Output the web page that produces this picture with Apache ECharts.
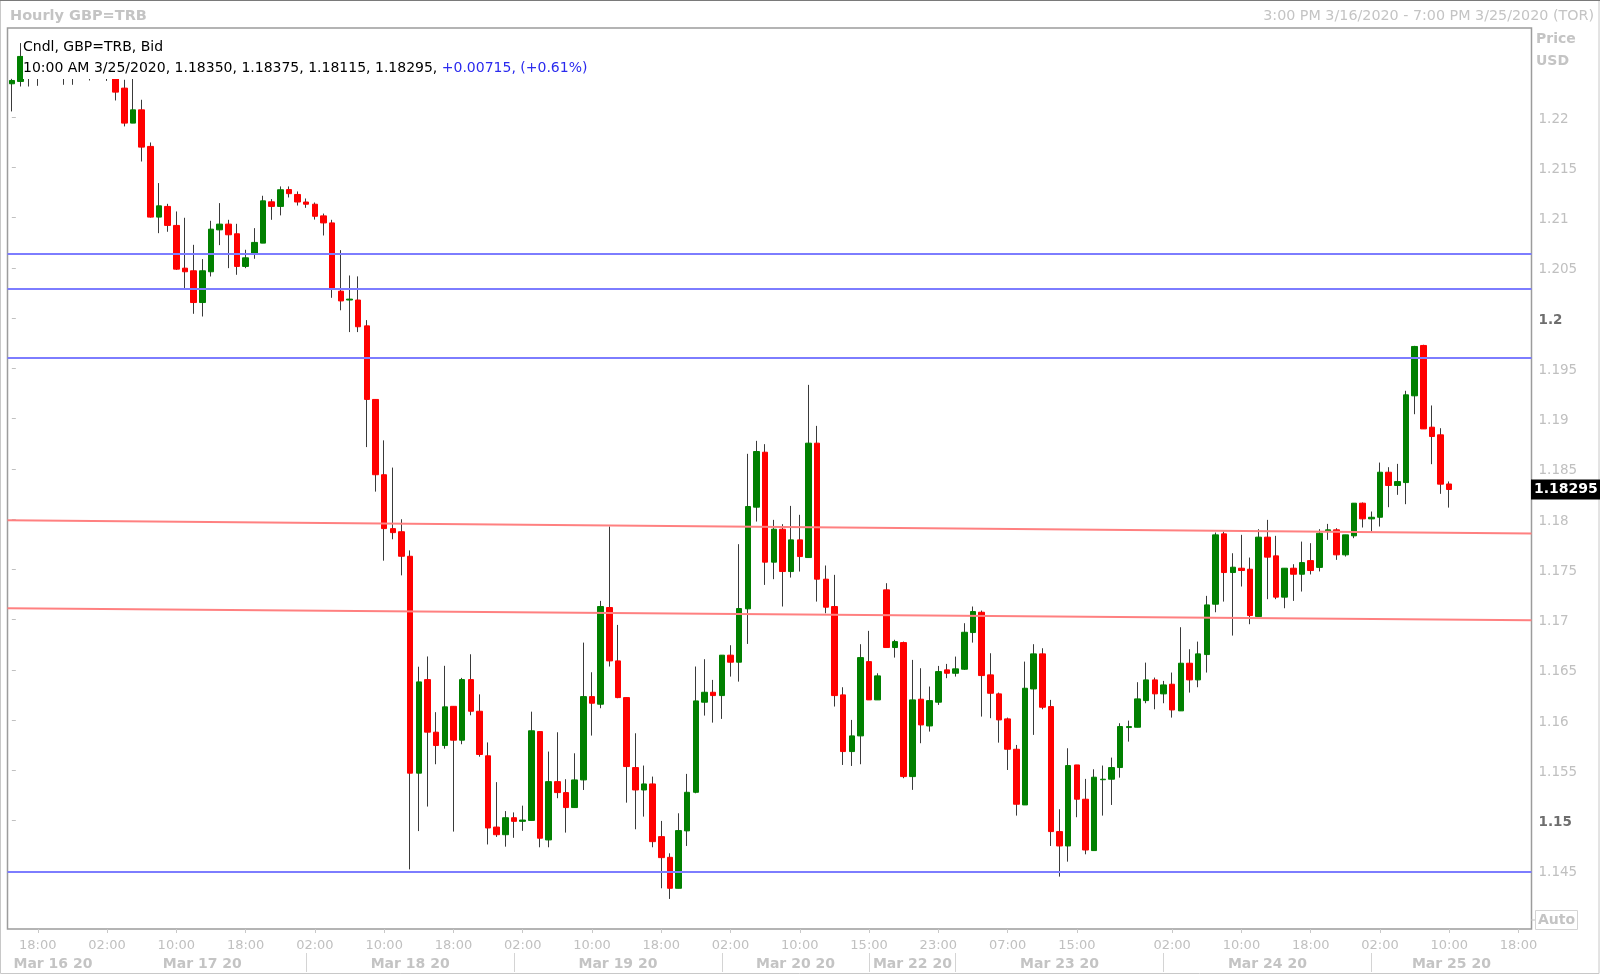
<!DOCTYPE html>
<html><head><meta charset="utf-8">
<script src="https://cdn.jsdelivr.net/npm/echarts@6/dist/echarts.min.js"></script>
<style>html,body{margin:0;padding:0;background:#fff}#c{width:1600px;height:977px}</style>
</head><body><div id="c"></div>
<script>
const FONT = 'DejaVu Sans';
// trading sessions: [day, first hour, last hour] (hourly bars, Toronto time)
const sessions = [['Mar 16',15,23],['Mar 17',0,23],['Mar 18',0,23],['Mar 19',0,23],['Mar 20',0,17],['Mar 22',15,23],['Mar 23',0,23],['Mar 24',0,23],['Mar 25',0,19]];

const open = [
1.22331,1.22354,1.2258,1.2252,1.2255,1.2250,1.2253,1.2247,1.2251,1.2254,
1.2249,1.2245,1.2241,1.22288,1.21940,1.22072,1.21708,1.21005,1.21111,1.20922,
1.20497,1.20471,1.20155,1.20461,1.20878,1.20935,1.20839,1.20514,1.20646,1.20746,
1.21157,1.21111,1.21279,1.21230,1.21155,1.21133,1.21017,1.20947,1.20268,1.20180,
1.20180,1.19923,1.19191,1.18442,1.17906,1.17875,1.17631,1.15473,1.16404,1.15881,
1.15748,1.16138,1.15801,1.16404,1.16089,1.15646,1.14937,1.14861,1.15030,1.14994,
1.15003,1.15887,1.14809,1.15389,1.15280,1.15131,1.15406,1.16235,1.16159,1.17121,
1.16590,1.16225,1.15529,1.15306,1.15366,1.14842,1.14636,1.14328,1.14899,1.15283,
1.16179,1.16278,1.16245,1.16647,1.16577,1.17108,1.18119,1.18666,1.17572,1.17900,
1.17479,1.17794,1.17618,1.18756,1.17403,1.17131,1.16252,1.15688,1.15844,1.16583,
1.16202,1.17297,1.16723,1.16772,1.15439,1.16209,1.15943,1.16179,1.16501,1.16467,
1.16507,1.16872,1.17074,1.16451,1.16262,1.16013,1.15711,1.15157,1.16311,1.16660,
1.16136,1.14892,1.14749,1.15555,1.15214,1.14703,1.15408,1.15413,1.15529,1.15927,
1.15930,1.16195,1.16401,1.16262,1.16358,1.16093,1.16567,1.16401,1.16653,1.17154,
1.17854,1.17469,1.17512,1.17502,1.17031,1.17821,1.17635,1.17224,1.17512,1.17452,
1.17588,1.17520,1.17878,1.17894,1.17645,1.17834,1.18159,1.18003,1.18019,1.18467,
1.18335,1.18364,1.19227,1.19728,1.18915,1.18839,1.18350];
const close = [
1.22364,1.22603,1.2252,1.2255,1.2250,1.2253,1.2247,1.2251,1.2254,1.2249,
1.2245,1.2241,1.22248,1.21940,1.22072,1.21701,1.21005,1.21117,1.20922,1.20487,
1.20461,1.20155,1.20471,1.20885,1.20935,1.20829,1.20514,1.20600,1.20753,1.21167,
1.21111,1.21277,1.21238,1.21155,1.21133,1.21013,1.20947,1.20299,1.20171,1.20189,
1.19914,1.19191,1.18442,1.17906,1.17866,1.17631,1.15473,1.16381,1.15881,1.15748,
1.16133,1.15801,1.16404,1.16089,1.15659,1.14928,1.14861,1.15030,1.14994,1.15007,
1.15895,1.14826,1.15389,1.15280,1.15131,1.15406,1.16235,1.16169,1.17131,1.16590,
1.16225,1.15539,1.15306,1.15366,1.14792,1.14633,1.14328,1.14902,1.15283,1.16192,
1.16278,1.16245,1.16647,1.16577,1.17111,1.18126,1.18673,1.17572,1.17900,1.17479,
1.17794,1.17628,1.18756,1.17403,1.17124,1.16245,1.15688,1.15844,1.16623,1.16202,
1.16441,1.16723,1.16782,1.15439,1.16202,1.15953,1.16195,1.16484,1.16467,1.16511,
1.16875,1.17081,1.16444,1.16268,1.16003,1.15711,1.15164,1.16318,1.16660,1.16129,
1.14892,1.14749,1.15549,1.15214,1.14709,1.15433,1.15413,1.15529,1.15937,1.15937,
1.16212,1.16401,1.16262,1.16351,1.16102,1.16567,1.16401,1.16660,1.17147,1.17844,
1.17469,1.17522,1.17489,1.17041,1.17821,1.17622,1.17224,1.17512,1.17452,1.17568,
1.17489,1.17860,1.17894,1.17645,1.17844,1.18159,1.18003,1.18019,1.18467,1.18335,
1.18374,1.19237,1.19718,1.18898,1.18822,1.18348,1.18295];
const low = [
1.22056,1.22304,1.22304,1.22311,1.2242,1.2243,1.22321,1.22321,1.2242,1.22364,
1.2241,1.2236,1.22165,1.21907,1.21940,1.21558,1.21000,1.20845,1.20859,1.20480,
1.20288,1.20043,1.20016,1.20414,1.20726,1.20497,1.20431,1.20497,1.20590,1.20746,
1.20978,1.21022,1.21200,1.21120,1.21097,1.20980,1.20822,1.20202,1.20078,1.19861,
1.19861,1.18717,1.18274,1.17587,1.17800,1.17441,1.14516,1.14897,1.15141,1.15562,
1.15717,1.14892,1.15761,1.16049,1.15637,1.14764,1.14839,1.14742,1.14830,1.14900,
1.15003,1.14736,1.14736,1.15224,1.14882,1.15131,1.15306,1.15847,1.16119,1.16534,
1.16219,1.15180,1.14915,1.15041,1.14736,1.14328,1.14222,1.14328,1.14749,1.15273,
1.16046,1.15976,1.16013,1.16434,1.16384,1.16759,1.17976,1.17346,1.17403,1.17131,
1.17419,1.17479,1.17618,1.17180,1.17064,1.16136,1.15555,1.15545,1.15562,1.16202,
1.16202,1.16723,1.16623,1.15423,1.15307,1.15771,1.15887,1.16152,1.16418,1.16434,
1.16501,1.16772,1.16036,1.16020,1.15777,1.15505,1.15051,1.15157,1.15854,1.16109,
1.14749,1.14444,1.14593,1.15035,1.14666,1.14703,1.15051,1.15157,1.15429,1.15787,
1.15930,1.16169,1.16109,1.16169,1.16026,1.16093,1.16275,1.16328,1.16474,1.17074,
1.17180,1.16842,1.17330,1.16955,1.17031,1.17204,1.17204,1.17114,1.17187,1.17280,
1.17450,1.17480,1.17794,1.17595,1.17628,1.17811,1.17917,1.17877,1.17927,1.18119,
1.18242,1.18149,1.19044,1.18898,1.18547,1.18252,1.18115];
const high = [
1.22380,1.22736,1.2262,1.2258,1.2260,1.2256,1.2257,1.2255,1.2256,1.2258,
1.2253,1.2250,1.2243,1.22371,1.22388,1.22172,1.21747,1.21343,1.21137,1.21061,
1.20998,1.20729,1.20587,1.20968,1.21144,1.20978,1.20938,1.20680,1.20895,1.21217,
1.21184,1.21310,1.21310,1.21260,1.21190,1.21150,1.21040,1.20978,1.20676,1.20424,
1.20415,1.19980,1.19191,1.18784,1.18513,1.17999,1.17689,1.16532,1.16634,1.16080,
1.16541,1.16138,1.16421,1.16656,1.16257,1.15779,1.15384,1.15096,1.15083,1.15150,
1.16085,1.15887,1.15688,1.15880,1.15413,1.15671,1.16772,1.16477,1.17187,1.17927,
1.16948,1.16225,1.15870,1.15549,1.15439,1.14998,1.14676,1.15074,1.15466,1.16534,
1.16607,1.16401,1.16647,1.16746,1.17751,1.18650,1.18779,1.18746,1.17993,1.17950,
1.18132,1.18043,1.19336,1.18928,1.17539,1.17446,1.16328,1.16003,1.16756,1.16889,
1.16467,1.17363,1.16800,1.16782,1.16600,1.16517,1.16335,1.16540,1.16560,1.16633,
1.16965,1.17131,1.17091,1.16666,1.16275,1.16026,1.15754,1.16583,1.16756,1.16716,
1.16202,1.15114,1.15721,1.15555,1.15416,1.15512,1.15549,1.15628,1.15970,1.15996,
1.16378,1.16573,1.16424,1.16391,1.16474,1.16925,1.16706,1.16782,1.17237,1.17867,
1.17877,1.17661,1.17844,1.17618,1.17900,1.17993,1.17834,1.17512,1.17552,1.17777,
1.17761,1.17900,1.17953,1.17910,1.17844,1.18159,1.18166,1.18076,1.18563,1.18517,
1.18550,1.19277,1.19724,1.19735,1.19131,1.18905,1.18375];

const timeTicks = ['Mar 16 18:00','Mar 17 02:00','Mar 17 10:00','Mar 17 18:00','Mar 18 02:00','Mar 18 10:00','Mar 18 18:00','Mar 19 02:00','Mar 19 10:00','Mar 19 18:00','Mar 20 02:00','Mar 20 10:00','Mar 22 15:00','Mar 22 23:00','Mar 23 07:00','Mar 23 15:00','Mar 24 02:00','Mar 24 10:00','Mar 24 18:00','Mar 25 02:00','Mar 25 10:00','Mar 25 18:00'];
const dayLabels = ['Mar 16 20','Mar 17 20','Mar 18 20','Mar 19 20','Mar 20 20','Mar 22 20','Mar 23 20','Mar 24 20','Mar 25 20'];
const dayBreaks = ['Mar 17 01:00','Mar 18 01:00','Mar 19 01:00','Mar 20 01:00','Mar 22 15:00','Mar 23 01:00','Mar 24 01:00','Mar 25 01:00'];
const yTicks = [1.145,1.15,1.155,1.16,1.165,1.17,1.175,1.18,1.185,1.19,1.195,1.2,1.205,1.21,1.215,1.22];
const strongTicks = [1.15,1.2];
const levelLines = [1.20637,1.20289,1.19602,1.14490];
const trendLines = [[1.17989,1.17857],[1.17115,1.16994]];
const yMin = 1.13923, yMax = 1.22886;

const headerLine1 = 'Cndl, GBP=TRB, Bid';
const headerQuote = '10:00 AM 3/25/2020, 1.18350, 1.18375, 1.18115, 1.18295, ';
const headerChange = '+0.00715, (+0.61%)';
const chartTitle = 'Hourly GBP=TRB';
const rangeText = '3:00 PM 3/16/2020 - 7:00 PM 3/25/2020 (TOR)';

// categories
const categories = [];
sessions.forEach(([d,a,b]) => { for (let h=a; h<=b; h++) categories.push(d + ' ' + String(h).padStart(2,'0') + ':00'); });
const N = categories.length;
const tickSet = new Set(timeTicks.map(t => categories.indexOf(t)));
const breakIdx = dayBreaks.map(c => categories.indexOf(c));
const edges = [-0.5].concat(breakIdx, [N - 0.5]);
const dayPos = dayLabels.map((_, k) => (edges[k] + edges[k+1]) / 2);
const separators = breakIdx.slice(1);

const wickData = open.map((o,i) => [o, close[i], low[i], high[i]]);
const bodyData = open.map((o,i) => [o, close[i], Math.min(o, close[i]), Math.max(o, close[i])]);

const lineSeries = [];
levelLines.forEach(v => lineSeries.push({type:'line', xAxisIndex:1, yAxisIndex:0, data:[[-0.5,v],[N-0.5,v]], symbol:'none', silent:true, z:5, lineStyle:{color:'#7d7dff', width:2}}));
trendLines.forEach(([a,b]) => lineSeries.push({type:'line', xAxisIndex:1, yAxisIndex:0, data:[[-0.5,a],[N-0.5,b]], symbol:'none', silent:true, z:5, lineStyle:{color:'#ff8080', width:2}}));

const fmtY = v => String(parseFloat(v.toFixed(3)));

const option = {
  animation: false,
  backgroundColor: '#fff',
  textStyle: {fontFamily: FONT},
  title: [
    {left: 23, top: 37, padding: 0, itemGap: 0, backgroundColor: '#fff', z: 10,
     text: headerLine1, textStyle: {fontFamily: FONT, fontSize: 14, fontWeight: 'normal', color: '#000', lineHeight: 21},
     subtext: '{a|' + headerQuote + '}{b|' + headerChange + '}',
     subtextStyle: {lineHeight: 21, rich: {a: {fontFamily: FONT, fontSize: 14, color: '#000', lineHeight: 21}, b: {fontFamily: FONT, fontSize: 14, color: '#2a2aee', lineHeight: 21}}}},
    {left: 10, top: 9, padding: 0, text: chartTitle, textStyle: {fontFamily: FONT, fontSize: 14.5, fontWeight: 'bold', color: '#c4c4c4'}},
    {right: 6, top: 9, padding: 0, text: rangeText, textStyle: {fontFamily: FONT, fontSize: 14.3, fontWeight: 'normal', color: '#c4c4c4'}}
  ],
  grid: {left: 7.5, top: 28, width: 1524, height: 901, show: true, borderColor: '#9c9c9c', borderWidth: 1.5, backgroundColor: 'transparent', containLabel: false},
  xAxis: [
    {type: 'category', data: categories, boundaryGap: true, position: 'bottom',
     axisLine: {show: false}, splitLine: {show: false},
     axisTick: {show: true, alignWithLabel: true, length: 4, interval: (i) => tickSet.has(i), lineStyle: {color: '#c8c8c8'}},
     axisLabel: {interval: (i) => tickSet.has(i), formatter: v => v.slice(-5), color: '#c0c0c0', fontSize: 13, fontFamily: FONT, margin: 10}},
    {type: 'value', min: -0.5, max: N - 0.5, position: 'bottom', offset: 24,
     axisLine: {show: false}, splitLine: {show: false},
     axisTick: {show: true, customValues: separators, length: 19, lineStyle: {color: '#d4d4d4'}},
     axisLabel: {customValues: dayPos, margin: 4, color: '#c4c4c4', fontSize: 14, fontWeight: 'bold', fontFamily: FONT,
       formatter: v => { const k = dayPos.findIndex(p => Math.abs(p - v) < 1e-6); return k >= 0 ? dayLabels[k] : ''; }}}
  ],
  yAxis: [{type: 'value', position: 'right', min: yMin, max: yMax,
    axisLine: {show: false}, splitLine: {show: false},
    axisTick: {show: true, customValues: yTicks, length: 4, lineStyle: {color: '#c0c0c0'}},
    axisLabel: {customValues: yTicks, margin: 7,
      formatter: v => strongTicks.some(t => Math.abs(t - v) < 1e-9) ? '{s|' + fmtY(v) + '}' : '{n|' + fmtY(v) + '}',
      rich: {n: {color: '#c0c0c0', fontSize: 13.5, fontFamily: FONT, padding: [4,0,0,0]}, s: {color: '#6e6e6e', fontSize: 13.5, fontWeight: 'bold', fontFamily: FONT, padding: [4,0,0,0]}}}
  }],
  series: [
    {type: 'candlestick', name: 'wick', xAxisIndex: 0, yAxisIndex: 0, data: wickData, barWidth: 0.01, silent: true,
     itemStyle: {color: '#3a3a3a', color0: '#3a3a3a', borderColor: '#3a3a3a', borderColor0: '#3a3a3a', borderWidth: 1}},
    {type: 'candlestick', name: 'body', xAxisIndex: 0, yAxisIndex: 0, data: bodyData, barWidth: 6, silent: true,
     itemStyle: {color: '#008000', color0: '#ff0000', borderColor: '#008000', borderColor0: '#ff0000', borderWidth: 1}}
  ].concat(lineSeries)
};

const chart = echarts.init(document.getElementById('c'), null, {renderer: 'canvas'});
chart.setOption(option);

const lastClose = close[close.length - 1];
const py = chart.convertToPixel({yAxisIndex: 0}, lastClose);
chart.setOption({graphic: {elements: [
  {type: 'rect', silent: true, z: 0, shape: {x: 0.5, y: 0.5, width: 1598.5, height: 973}, style: {fill: 'none', stroke: '#c8c8c8', lineWidth: 1}},
  {type: 'line', silent: true, z: 0, shape: {x1: 0, y1: 0.5, x2: 1600, y2: 0.5}, style: {stroke: '#7a7a7a', lineWidth: 1}},
  {type: 'text', silent: true, x: 1536, y: 39.5, style: {text: 'Price', font: 'bold 14px "DejaVu Sans"', fill: '#c4c4c4', verticalAlign: 'middle'}},
  {type: 'text', silent: true, x: 1536, y: 61.5, style: {text: 'USD', font: 'bold 14px "DejaVu Sans"', fill: '#c4c4c4', verticalAlign: 'middle'}},
  {type: 'line', silent: true, shape: {x1: 1531, y1: 920, x2: 1535, y2: 920}, style: {stroke: '#c0c0c0', lineWidth: 1}},
  {type: 'rect', silent: true, shape: {x: 1535.5, y: 910.5, width: 42, height: 19}, style: {fill: '#fff', stroke: '#d4d4d4', lineWidth: 1}},
  {type: 'text', silent: true, x: 1538, y: 920.5, style: {text: 'Auto', font: 'bold 14px "DejaVu Sans"', fill: '#c4c4c4', verticalAlign: 'middle'}},
  {type: 'rect', silent: true, z: 20, shape: {x: 1531, y: py - 10, width: 69, height: 20}, style: {fill: '#000'}},
  {type: 'text', silent: true, z: 21, x: 1534, y: py, style: {text: lastClose.toFixed(5), font: 'bold 14px "DejaVu Sans"', fill: '#fff', verticalAlign: 'middle'}}
]}});
</script>
</body></html>
